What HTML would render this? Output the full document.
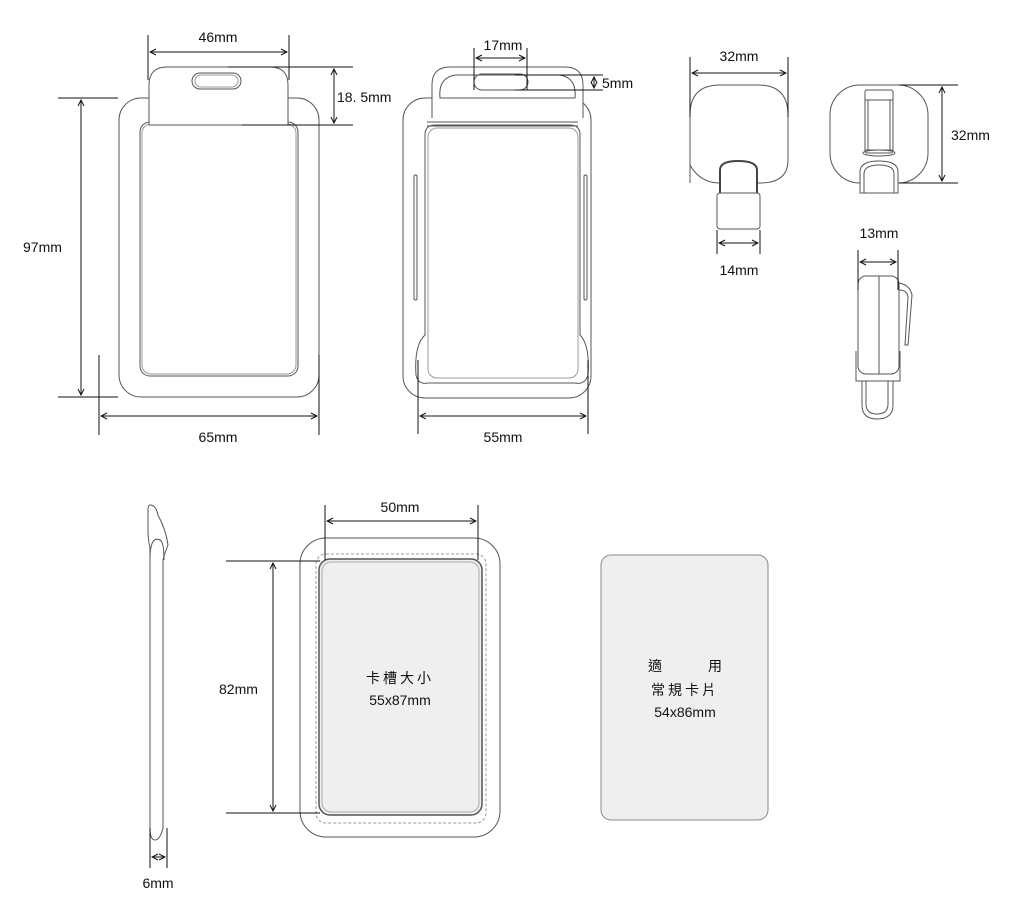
<!DOCTYPE html>
<html><head><meta charset="utf-8"><style>
html,body{margin:0;padding:0;background:#fff;}
svg{display:block;font-family:"Liberation Sans","Noto Sans CJK TC",sans-serif;}
text{font-size:14px;fill:#111;}
</style></head><body>
<svg width="1024" height="915" viewBox="0 0 1024 915" xmlns="http://www.w3.org/2000/svg">
<defs>
<marker id="a" markerWidth="8" markerHeight="8" refX="7" refY="4" orient="auto-start-reverse" markerUnits="userSpaceOnUse"><path d="M1,1 L7,4 L1,7" fill="none" stroke="#111" stroke-width="1"/></marker>
</defs>
<g fill="none" stroke="#555" stroke-width="1">
<rect x="119" y="98" width="200" height="299" rx="22"/>
<rect x="140" y="122" width="158" height="254" rx="10"/>
<rect x="142" y="124" width="154" height="250" rx="9" stroke="#999"/>
<path d="M149,125 V85 Q149,67 167,67 H270 Q288,67 288,85 V125 Z" fill="#fff"/>
<rect x="192" y="73" width="49" height="16" rx="8"/>
<rect x="195" y="75" width="43" height="12" rx="6" stroke="#999"/>
<rect x="403" y="98" width="188" height="300" rx="22"/>
<path d="M432,118 V85 Q432,67 450,67 H565 Q583,67 583,85 V118" fill="#fff"/>
<path d="M440,98 Q438,78 455,75 H560 Q577,78 575,98 Z"/>
<rect x="474" y="74" width="54" height="16" rx="8"/>
<path d="M427,122 H578 M427,126 H578" />
<path d="M425,335 V135 Q425,125 435,125 H570 Q580,125 580,135 V335 Q590,345 588,375 Q585,385 575,383 H428 Q418,385 416,375 Q414,345 425,335 Z"/>
<rect x="428" y="128" width="150" height="250" rx="9" stroke="#999"/>
<rect x="414" y="175" width="3" height="125" rx="1.5"/>
<rect x="584" y="175" width="3" height="125" rx="1.5"/>
<path d="M690,183 V115 Q690,85 720,85 H758 Q788,85 788,115 V160 Q788,183 760,183 H757 V185"/>
<path d="M720,183 Q700,183 690,165"/>
<path d="M720,193 V170 Q720,161 738,161 Q757,161 757,170 V193" stroke-width="2" stroke="#444"/>
<rect x="717" y="193" width="43" height="36" rx="3" fill="#fff"/>
<rect x="830" y="85" width="98" height="98" rx="30"/>
<rect x="865" y="90" width="28" height="63" rx="2" fill="#fff"/>
<path d="M865,100 H893 M868,100 V150 M890,100 V150 M865,150 H893"/>
<ellipse cx="879" cy="153" rx="16" ry="3"/>
<path d="M860,193 V172 Q860,161 879,161 Q898,161 898,172 V193 Z" fill="#fff"/>
<path d="M864,193 V174 Q864,165 879,165 Q894,165 894,174 V193"/>
<rect x="858" y="276" width="41" height="98" rx="8" fill="#fff"/>
<path d="M879,276 V374"/>
<path d="M899,283 Q910,285 912,295 L908,345 L905,345 L908,297 Q907,290 899,290"/>
<path d="M856,351 V381 H900 V351"/>
<path d="M862,381 V405 Q862,419 877,419 Q893,419 893,405 V381 M866,381 V404 Q866,414 877,414 Q888,414 888,404 V381"/>
<path d="M150,505 Q156,505 158,515 Q166,530 168,545 Q164,555 163,560 V828 Q160,840 155,840 Q150,840 150,828 V548 Q148,540 148,530 L148,510 Q148,505 150,505 Z"/>
<path d="M150,560 Q150,535 160,540 Q164,542 164,560"/>
<rect x="300" y="538" width="200" height="299" rx="26"/>
<rect x="316" y="554" width="170" height="269" rx="10" stroke="#999" stroke-dasharray="3,2"/>
<rect x="319" y="559" width="163" height="256" rx="11" fill="#efefef" stroke="#555" stroke-width="1.5"/>
<rect x="322" y="562" width="157" height="250" rx="9" stroke="#aaa"/>
<rect x="601" y="555" width="167" height="265" rx="10" fill="#efefef" stroke="#888"/>
</g>
<g stroke="#111" stroke-width="1" fill="none">
<path d="M148,35 V80 M289,35 V80"/>
<path d="M150,52 H287" marker-start="url(#a)" marker-end="url(#a)"/>
<path d="M228,67 H353 M242,125 H353"/>
<path d="M334,69 V123" marker-start="url(#a)" marker-end="url(#a)"/>
<path d="M58,98 H118 M58,397 H118"/>
<path d="M81,100 V395" marker-start="url(#a)" marker-end="url(#a)"/>
<path d="M99,355 V435 M319,355 V435"/>
<path d="M101,416 H317" marker-start="url(#a)" marker-end="url(#a)"/>
<path d="M474,48 V90 M527,48 V90"/>
<path d="M476,58 H525" marker-start="url(#a)" marker-end="url(#a)"/>
<path d="M515,75 H603 M515,90 H603"/>
<path d="M594,77 V88" marker-start="url(#a)" marker-end="url(#a)"/>
<path d="M418,360 V434 M588,360 V434"/>
<path d="M420,416 H586" marker-start="url(#a)" marker-end="url(#a)"/>
<path d="M690,57 V117 M788,57 V117"/>
<path d="M692,73 H786" marker-start="url(#a)" marker-end="url(#a)"/>
<path d="M717,230 V254 M760,230 V254"/>
<path d="M719,243 H758" marker-start="url(#a)" marker-end="url(#a)"/>
<path d="M899,85 H958 M899,183 H958"/>
<path d="M942,87 V181" marker-start="url(#a)" marker-end="url(#a)"/>
<path d="M858,250 V290 M898,250 V290"/>
<path d="M860,262 H896" marker-start="url(#a)" marker-end="url(#a)"/>
<path d="M150,828 V868 M167,828 V868"/>
<path d="M152,857 H165" marker-start="url(#a)" marker-end="url(#a)"/>
<path d="M325,505 V560 M478,505 V560"/>
<path d="M327,521 H476" marker-start="url(#a)" marker-end="url(#a)"/>
<path d="M226,561 H320 M226,813 H320"/>
<path d="M273,563 V811" marker-start="url(#a)" marker-end="url(#a)"/>
</g>
<g>
<text x="218" y="42" text-anchor="middle">46mm</text>
<text x="337" y="102">18. 5mm</text>
<text x="23" y="252">97mm</text>
<text x="218" y="442" text-anchor="middle">65mm</text>
<text x="503" y="50" text-anchor="middle">17mm</text>
<text x="602" y="88">5mm</text>
<text x="503" y="442" text-anchor="middle">55mm</text>
<text x="739" y="61" text-anchor="middle">32mm</text>
<text x="739" y="275" text-anchor="middle">14mm</text>
<text x="951" y="140">32mm</text>
<text x="879" y="238" text-anchor="middle">13mm</text>
<text x="158" y="888" text-anchor="middle">6mm</text>
<text x="400" y="512" text-anchor="middle">50mm</text>
<text x="219" y="694">82mm</text>
<text x="400" y="683" text-anchor="middle" letter-spacing="3">卡槽大小</text>
<text x="400" y="705" text-anchor="middle">55x87mm</text>
<text x="648" y="671">適</text>
<text x="708" y="671">用</text>
<text x="685" y="695" text-anchor="middle" letter-spacing="3">常規卡片</text>
<text x="685" y="717" text-anchor="middle">54x86mm</text>
</g>
</svg>
</body></html>
